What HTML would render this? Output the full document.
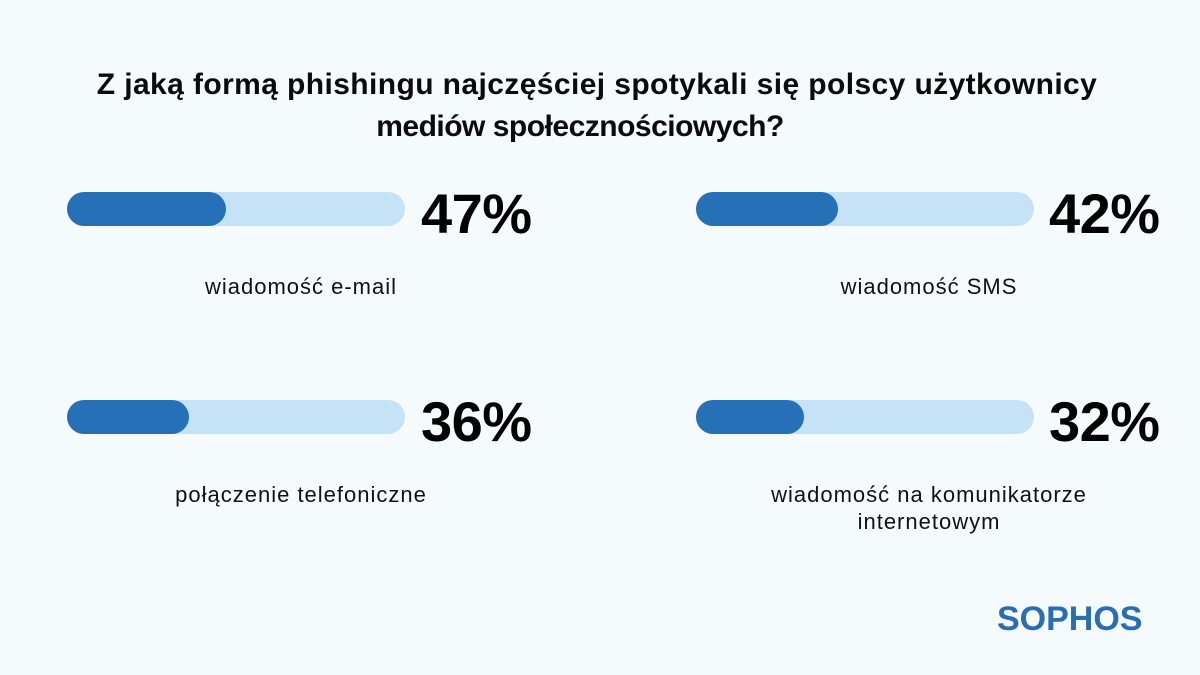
<!DOCTYPE html>
<html><head><meta charset="utf-8"><style>
body{margin:0;width:1200px;height:675px;background:#f5fbfd;position:relative;overflow:hidden;font-family:"Liberation Sans",sans-serif;}
.t{position:absolute;left:0;width:1200px;text-align:center;font-weight:bold;font-size:30px;letter-spacing:0.4px;color:#0b0b0b;line-height:34px;}
.track{position:absolute;height:34px;border-radius:17px;background:#c5e2f7;width:338px;}
.fill{height:34px;border-radius:17px;background:#2670b7;}
.p{position:absolute;font-weight:bold;font-size:56px;color:#000;line-height:1;letter-spacing:-0.5px;}
.l{position:absolute;width:400px;text-align:center;font-size:22px;letter-spacing:1px;color:#111;line-height:27px;}
</style></head><body>
<div class="t" style="top:68px;left:-3px">Z jaką formą phishingu najczęściej spotykali się polscy użytkownicy</div>
<div class="t" style="top:110px;left:-20px;letter-spacing:-0.5px">mediów społecznościowych?</div>

<div class="track" style="left:67px;top:192px"><div class="fill" style="width:159px"></div></div>
<div class="p" style="left:421px;top:186px">47%</div>
<div class="l" style="left:101px;top:273px">wiadomość e-mail</div>

<div class="track" style="left:696px;top:192px"><div class="fill" style="width:142px"></div></div>
<div class="p" style="left:1049px;top:186px">42%</div>
<div class="l" style="left:729px;top:273px">wiadomość SMS</div>

<div class="track" style="left:67px;top:400px"><div class="fill" style="width:122px"></div></div>
<div class="p" style="left:421px;top:394px">36%</div>
<div class="l" style="left:101px;top:481px">połączenie telefoniczne</div>

<div class="track" style="left:696px;top:400px"><div class="fill" style="width:108px"></div></div>
<div class="p" style="left:1049px;top:394px">32%</div>
<div class="l" style="left:729px;top:481px">wiadomość na komunikatorze<br>internetowym</div>

<div style="position:absolute;left:997px;top:601px;font-weight:bold;font-size:34px;color:#2a6db5;line-height:36px;">SOPHOS</div>
</body></html>
